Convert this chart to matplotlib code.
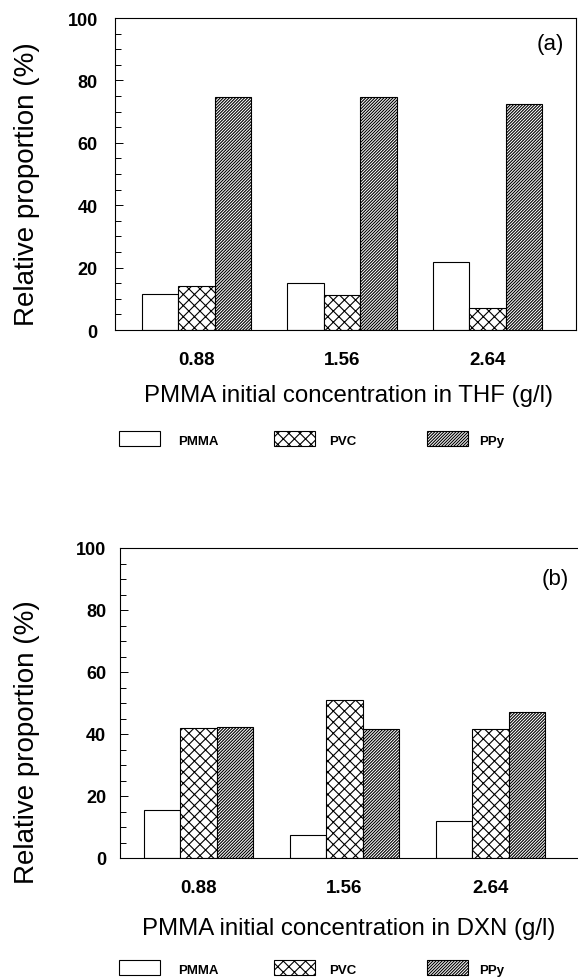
import numpy as np
import matplotlib.pyplot as plt
from matplotlib.patches import Rectangle
from matplotlib.ticker import MultipleLocator

plt.rcParams['font.family'] = ['Liberation Sans', 'DejaVu Sans']
plt.rcParams['hatch.linewidth'] = 0.8

concentrations = ['0.88', '1.56', '2.64']
series = ['PMMA', 'PVC', 'PPy']
hatches = ['', 'xxx', '/' * 11]

# panel (a): THF
thf_pmma = [11.5, 15.0, 21.9]
thf_pvc = [14.2, 11.3, 7.0]
thf_ppy = [74.6, 74.6, 72.3]

# panel (b): DXN
dxn_pmma = [15.6, 7.3, 11.8]
dxn_pvc = [41.8, 51.1, 41.6]
dxn_ppy = [42.2, 41.6, 47.1]

W, H = 578, 979
fig = plt.figure(figsize=(W / 100, H / 100), dpi=100)


def px_axes(left, top, right, bottom):
    return fig.add_axes([left / W, 1 - bottom / H, (right - left) / W, (bottom - top) / H])


def draw_panel(ax, values, xlim, tag, tag_pos, ypad, xlabel, xlab_y, legend_y, box_top, full_box):
    x = np.arange(len(concentrations))
    width = 0.25
    for i, (vals, h) in enumerate(zip(values, hatches)):
        ax.bar(x + (i - 1) * width, vals, width, facecolor='white', edgecolor='black',
               linewidth=0.8, hatch=h)
    ax.set_xlim(*xlim)
    ax.set_ylim(0, 100)
    ax.set_xticks(x, concentrations, fontsize=13.5, fontweight='bold')
    ax.tick_params(axis='x', length=0, pad=15)
    ax.yaxis.set_major_locator(MultipleLocator(20))
    ax.yaxis.set_minor_locator(MultipleLocator(5))
    ax.tick_params(axis='y', which='major', direction='in', length=6, width=0.7,
                   labelsize=13, pad=ypad)
    ax.tick_params(axis='y', which='minor', direction='in', length=4, width=0.7)
    for lab in ax.get_yticklabels():
        lab.set_fontweight('bold')
    for sp in ax.spines.values():
        sp.set_linewidth(0.8)
    if not full_box:
        ax.spines['right'].set_visible(False)
    ax.text(tag_pos[0], tag_pos[1], tag, transform=ax.transAxes, fontsize=16,
            ha='center', va='center')

    fig.text(349 / W, 1 - xlab_y / H, xlabel, fontsize=17.3, ha='center', va='center')

    # legend row
    box_x = [119, 274, 427]
    text_x = [178, 329, 479]
    for bx, tx, name, h in zip(box_x, text_x, series, hatches):
        fig.patches.append(Rectangle((bx / W, 1 - (box_top + 15) / H), 41 / W, 15 / H,
                                     transform=fig.transFigure, facecolor='white',
                                     edgecolor='black', linewidth=0.8, hatch=h))
        fig.text(tx / W, 1 - legend_y / H, name, fontsize=9.5, fontweight='bold',
                 ha='left', va='center')


ax1 = px_axes(115, 19, 576, 331)
draw_panel(ax1, [thf_pmma, thf_pvc, thf_ppy], (-0.558, 2.606), '(a)', (0.944, 0.917), 12.5,
           'PMMA initial concentration in THF (g/l)', 396, 442, 432, True)
fig.text(27 / W, 1 - 184 / H, 'Relative proportion (%)', fontsize=20,
         rotation=90, ha='center', va='center')

ax2 = px_axes(120, 549, 600, 859)
draw_panel(ax2, [dxn_pmma, dxn_pvc, dxn_ppy], (-0.538, 2.75), '(b)', (0.906, 0.9), 10,
           'PMMA initial concentration in DXN (g/l)', 929, 971, 961, False)
fig.text(27 / W, 1 - 742 / H, 'Relative proportion (%)', fontsize=20,
         rotation=90, ha='center', va='center')

fig.savefig('out.png', dpi=100)
